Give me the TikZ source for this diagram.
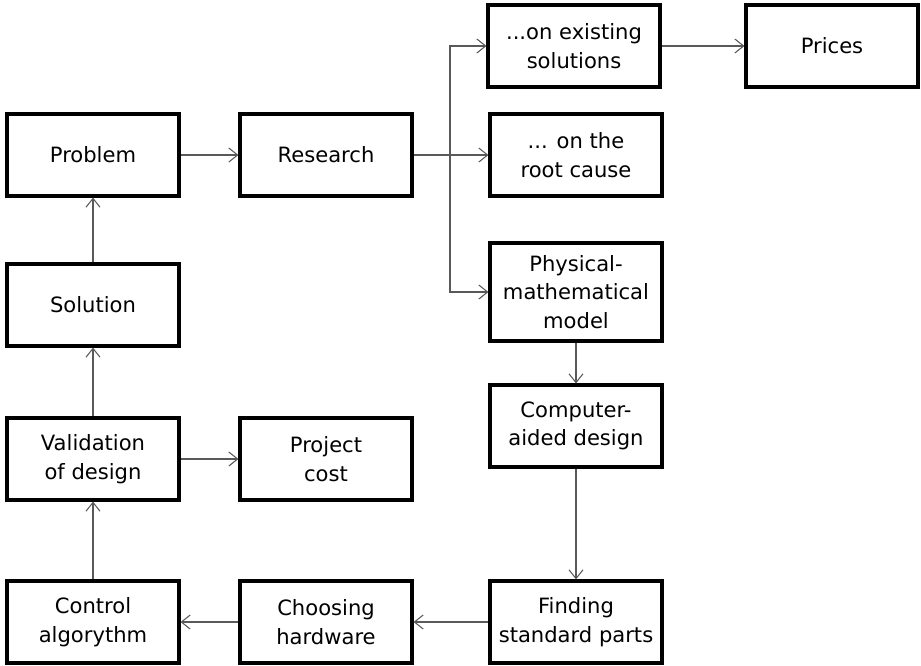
\documentclass[tikz,border=0pt]{standalone}
\usepackage{fontspec}
\newfontfamily\boxfont{DejaVu Sans}
\usetikzlibrary{arrows.meta}
\tikzset{
  stage/.style={draw, line width=1.8pt, minimum width=3.44cm, minimum height=1.64cm,
    inner sep=2pt, align=center, font=\boxfont\fontsize{12}{16.3}\selectfont},
  link/.style={draw=black!65, line width=0.6pt, -{Straight Barb[length=5pt,width=8pt]}}
}
\begin{document}
\begin{tikzpicture}[x=0.02cm, y=-0.02cm]
	\useasboundingbox (0,0) rectangle (921,666);
	\node[stage] (problem)  at (93,155)  {Problem};
	\node[stage] (research) at (326,155) {Research};
	\node[stage] (existing) at (574,46)  {...on existing\\solutions};
	\node[stage] (prices)   at (832,46)  {Prices};
	\node[stage] (root)     at (576,155) {... on the\\root cause};
	\node[stage, minimum height=1.96cm] (physical) at (576,292) {Physical-\\mathematical\\model};
	\node[stage] (computer) at (576,426) {Computer-\\aided design};
	\node[stage] (finding)  at (576,622) {Finding\\standard parts};
	\node[stage] (choosing) at (326,622) {Choosing\\hardware};
	\node[stage] (control)  at (93,622)  {Control\\algorythm};
	\node[stage] (validation) at (93,459) {Validation\\of design};
	\node[stage] (cost)     at (326,459) {Project\\cost};
	\node[stage] (solution) at (93,305)  {Solution};
	\coordinate (fork) at (450,155);
	\draw[link] (problem) -- (research);
	\draw[link] (research) -- (root);
	\draw[link] (fork) |- (existing);
	\draw[link] (fork) |- (physical);
	\draw[link] (existing) -- (prices);
	\draw[link] (physical) -- (computer);
	\draw[link] (computer) -- (finding);
	\draw[link] (finding) -- (choosing);
	\draw[link] (choosing) -- (control);
	\draw[link] (control) -- (validation);
	\draw[link] (validation) -- (cost);
	\draw[link] (validation) -- (solution);
	\draw[link] (solution) -- (problem);
\end{tikzpicture}
\end{document}
